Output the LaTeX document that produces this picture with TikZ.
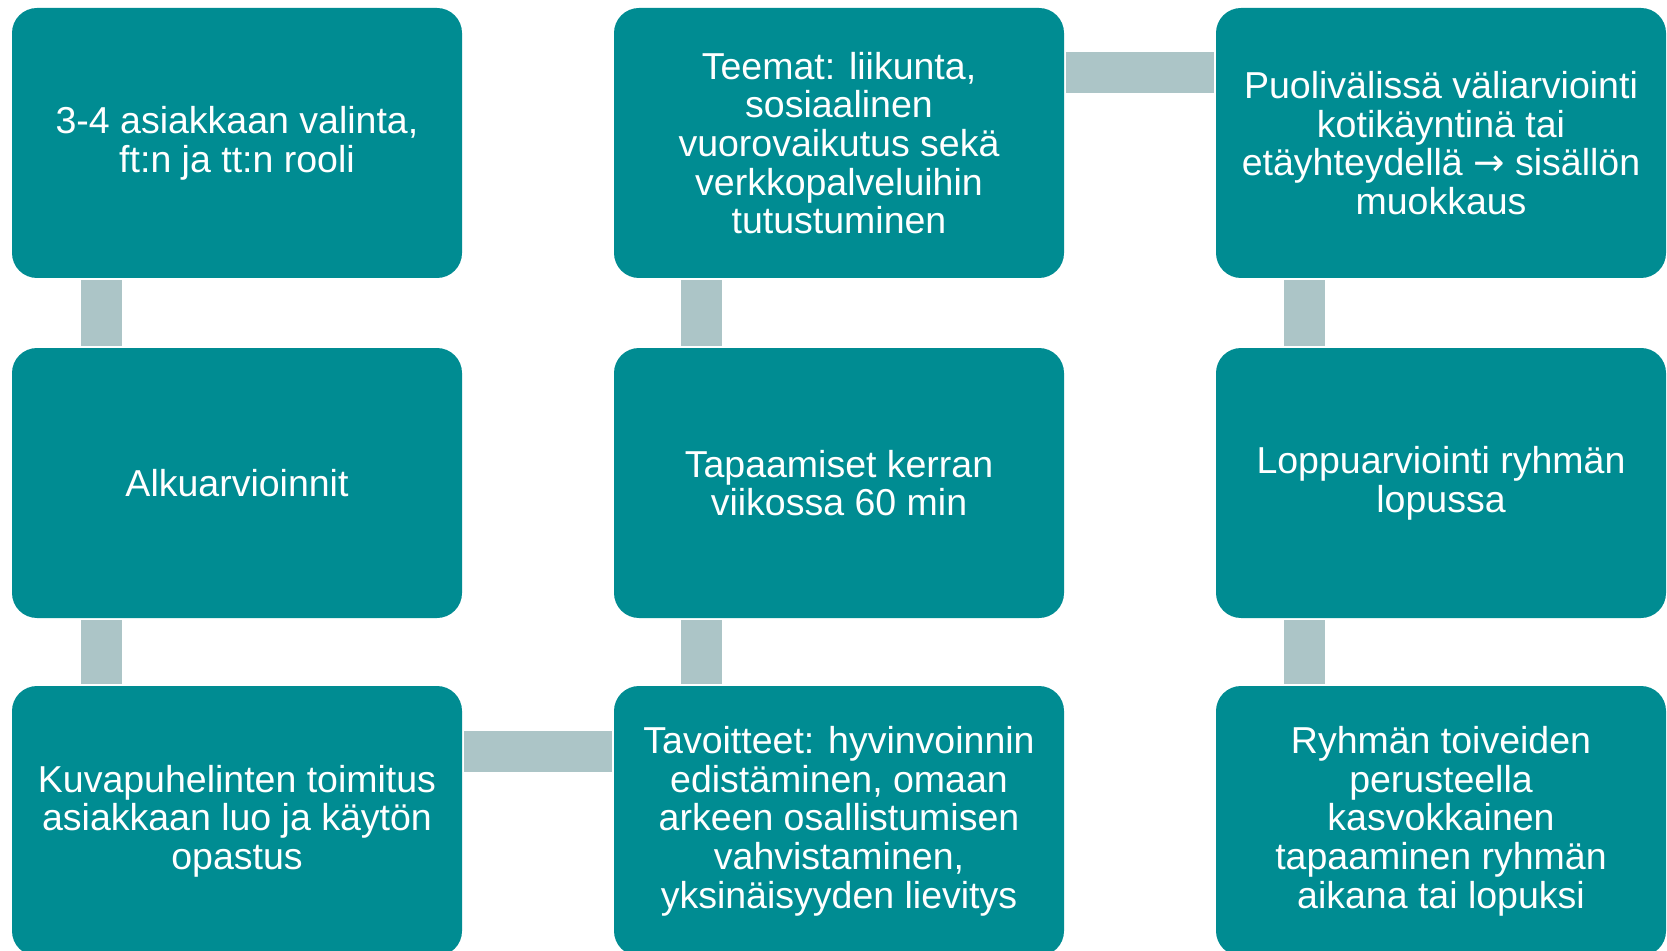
\documentclass[tikz,border=0pt]{standalone}
\usepackage{fontspec}
\setmainfont{Liberation Sans}
\newfontfamily\arrowfont{DejaVu Sans}
\usepackage{tikz}
\usetikzlibrary{calc, positioning}
\definecolor{boxTeal}{RGB}{0,140,146}
\definecolor{linkGray}{RGB}{172,197,199}

\tikzset{
  stage/.style={fill=boxTeal, text=white, rounded corners=15pt, align=center,
    minimum width=270pt, minimum height=162pt, inner sep=0pt,
    font=\fontsize{22.5}{23.2}\selectfont},
  link/.style={linkGray, line width=24.6pt}
}

\begin{document}
\begin{tikzpicture}[x=0.6pt, y=-0.6pt]
    % Background
    \path[fill=white, use as bounding box] (0,0) rectangle (1667,951);

    % Column 1
    \node[stage] (valinta) at (237,143) {3-4 asiakkaan valinta,\\ft:n ja tt:n rooli};
    \node[stage] (alku) at (237,483) {Alkuarvioinnit};
    \node[stage] (toimitus) at (237,821) {Kuvapuhelinten toimitus\\asiakkaan luo ja käytön\\opastus};

    % Column 2
    \node[stage] (tavoitteet) at (839,821) {Tavoitteet: hyvinvoinnin\\edistäminen, omaan\\arkeen osallistumisen\\vahvistaminen,\\yksinäisyyden lievitys};
    \node[stage] (tapaamiset) at (839,483) {Tapaamiset kerran\\viikossa 60 min};
    \node[stage] (teemat) at (839,143) {Teemat: liikunta,\\sosiaalinen\\vuorovaikutus sekä\\verkkopalveluihin\\tutustuminen};

    % Column 3
    \node[stage] (vali) at (1441,143) {Puolivälissä väliarviointi\\kotikäyntinä tai\\etäyhteydellä {\arrowfont →} sisällön\\muokkaus};
    \node[stage] (loppu) at (1441,483) {Loppuarviointi ryhmän\\lopussa};
    \node[stage] (toiveet) at (1441,821) {Ryhmän toiveiden\\perusteella\\kasvokkainen\\tapaaminen ryhmän\\aikana tai lopuksi};

    % Links
    \draw[link] ($(valinta.south west)+(90,2)$) -- ($(alku.north west)+(90,-2)$);
    \draw[link] ($(alku.south west)+(90,2)$) -- ($(toimitus.north west)+(90,-2)$);
    \draw[link] ($(toimitus.east)+(2,-70)$) -- ($(tavoitteet.west)+(-2,-70)$);
    \draw[link] ($(tavoitteet.north west)+(88,-2)$) -- ($(tapaamiset.south west)+(88,2)$);
    \draw[link] ($(tapaamiset.north west)+(88,-2)$) -- ($(teemat.south west)+(88,2)$);
    \draw[link] ($(teemat.east)+(2,-70)$) -- ($(vali.west)+(-2,-70)$);
    \draw[link] ($(vali.south west)+(89,2)$) -- ($(loppu.north west)+(89,-2)$);
    \draw[link] ($(loppu.south west)+(89,2)$) -- ($(toiveet.north west)+(89,-2)$);
\end{tikzpicture}
\end{document}
